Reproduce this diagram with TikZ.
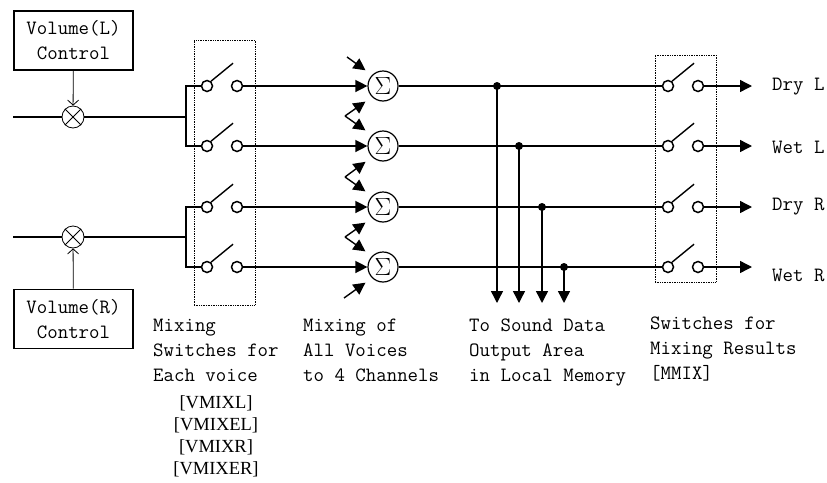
\documentclass[tikz,border=0pt]{standalone}
\usepackage{fontspec}
\newfontfamily\regfont{Liberation Serif}
\usepackage{tikz}
\usetikzlibrary{arrows.meta}

\tikzset{
	wire/.style = {line width=1.4pt},
	thinwire/.style = {line width=0.8pt},
	arr/.style = {-{Triangle[length=12pt,width=12pt]}},
	ctrltip/.style = {-{Straight Barb[length=5pt,width=11pt]}},
	contact/.style = {circle, draw, line width=1.5pt, minimum size=11pt, inner sep=0pt},
	summer/.style = {circle, draw, line width=1.2pt, minimum size=30pt, inner sep=0pt,
	                 font=\fontsize{24}{24}\selectfont},
	mult/.style = {circle, draw, line width=0.8pt, minimum size=22pt, inner sep=0pt},
	ctrlbox/.style = {draw, line width=1.6pt, minimum width=119pt, minimum height=59pt,
	                  align=center},
	swbox/.style = {draw, densely dotted, line width=0.7pt},
	caption/.style = {anchor=north west, inner sep=0pt, align=left},
}

\begin{document}
\begin{tikzpicture}[x=1pt, y=-1pt, font=\ttfamily\fontsize{20.3}{25}\selectfont]

	\useasboundingbox (0,0) rectangle (827,482);

	%Volume controls
	\node[ctrlbox] (VolL) at (73.5,40.5) {Volume(L)\\Control};
	\node[ctrlbox] (VolR) at (73.5,319.0) {Volume(R)\\Control};

	\node[mult] (MulL) at (73,117) {};
	\node[mult] (MulR) at (73,237) {};
	\draw[thinwire] (MulL.45) -- (MulL.225) (MulL.135) -- (MulL.315);
	\draw[thinwire] (MulR.45) -- (MulR.225) (MulR.135) -- (MulR.315);

	\coordinate (InL) at (13,117);
	\coordinate (InR) at (13,237);
	\coordinate (JoinL) at (186,117);
	\coordinate (JoinR) at (186,237);

	\draw[thinwire, ctrltip] (VolL) -- (MulL);
	\draw[thinwire, ctrltip] (VolR) -- (MulR);

	%Switch boxes
	\node[swbox, minimum width=61pt, minimum height=265pt] (VoiceBox) at (224.5,172.5) {};
	\node[swbox, minimum width=61pt, minimum height=227pt] (MmixBox) at (685.5,168.5) {};

	%Rows: switch, sum, tap, output switch
	\foreach \n/\y/\t in {A/86/497, B/146/519, C/207/542, D/267/564}{
		\node[contact] (SwIn\n) at (207,\y) {};
		\node[contact] (SwOut\n) at (237,\y) {};
		\node[summer] (Sum\n) at (383,\y) {$\Sigma$};
		\node[contact] (MmIn\n) at (668,\y) {};
		\node[contact] (MmOut\n) at (698,\y) {};
		\coordinate (End\n) at (752,\y);
		\coordinate (Tap\n) at (\t,\y);
		\coordinate (Down\n) at (\t,303);

		\draw[wire] (SwIn\n.50) -- ++(22,-18); % lever
		\draw[wire] (MmIn\n.50) -- ++(22,-18);
		\draw[wire, arr] (SwOut\n) -- (Sum\n);
		\draw[wire] (Sum\n) -- (MmIn\n);
		\draw[wire, arr] (MmOut\n) -- (End\n);
		\fill (Tap\n) circle (4pt);
		\draw[wire, arr] (Tap\n) -- (Down\n);
	}

	%Inputs to the voice switches
	\draw[wire] (InL) -- (MulL) -- (JoinL);
	\draw[wire] (SwInA) -| (JoinL) |- (SwInB);
	\draw[wire] (InR) -- (MulR) -- (JoinR);
	\draw[wire] (SwInC) -| (JoinR) |- (SwInD);

	%Other voices fed into the sums
	\coordinate (FeedTop) at (347,57);
	\coordinate (FanAB) at (345,116);
	\coordinate (FanBC) at (345,177);
	\coordinate (FanCD) at (345,237);
	\coordinate (FeedBot) at (344,298);
	\draw[wire, arr, shorten >=8pt] (FeedTop) -- (SumA.135);
	\draw[wire, arr, shorten >=8pt] (FanAB) -- (SumA.225);
	\draw[wire, arr, shorten >=8pt] (FanAB) -- (SumB.135);
	\draw[wire, arr, shorten >=8pt] (FanBC) -- (SumB.225);
	\draw[wire, arr, shorten >=8pt] (FanBC) -- (SumC.135);
	\draw[wire, arr, shorten >=8pt] (FanCD) -- (SumC.225);
	\draw[wire, arr, shorten >=8pt] (FanCD) -- (SumD.135);
	\draw[wire, arr, shorten >=8pt] (FeedBot) -- (SumD.225);

	%Output names
	\node[anchor=west, inner sep=0pt] (DryL) at (772,87) {Dry L};
	\node[anchor=west, inner sep=0pt] (WetL) at (772,147) {Wet L};
	\node[anchor=west, inner sep=0pt] (DryR) at (772,207) {Dry R};
	\node[anchor=west, inner sep=0pt] (WetR) at (772,275) {Wet R};

	%Captions
	\node[caption] (MixSw) at (153,313.5) {\strut Mixing\\Switches for\\Each voice};
	\node[anchor=north, inner sep=0pt, align=center,
	      font=\regfont\fontsize{18.5}{22}\selectfont] (VmixRegs) at (216,392.6)
	      {\strut {[VMIXL]}\\{[VMIXEL]}\\{[VMIXR]}\\{[VMIXER]}};
	\node[caption] (MixAll) at (303,313.5) {\strut Mixing of\\All Voices\\to 4 Channels};
	\node[caption] (ToMem) at (469,313.5) {\strut To Sound Data\\Output Area\\in Local Memory};
	\node[caption] (MmixSw) at (650,311.5) {\strut Switches for\\Mixing Results\\{[MMIX]}};

\end{tikzpicture}
\end{document}
